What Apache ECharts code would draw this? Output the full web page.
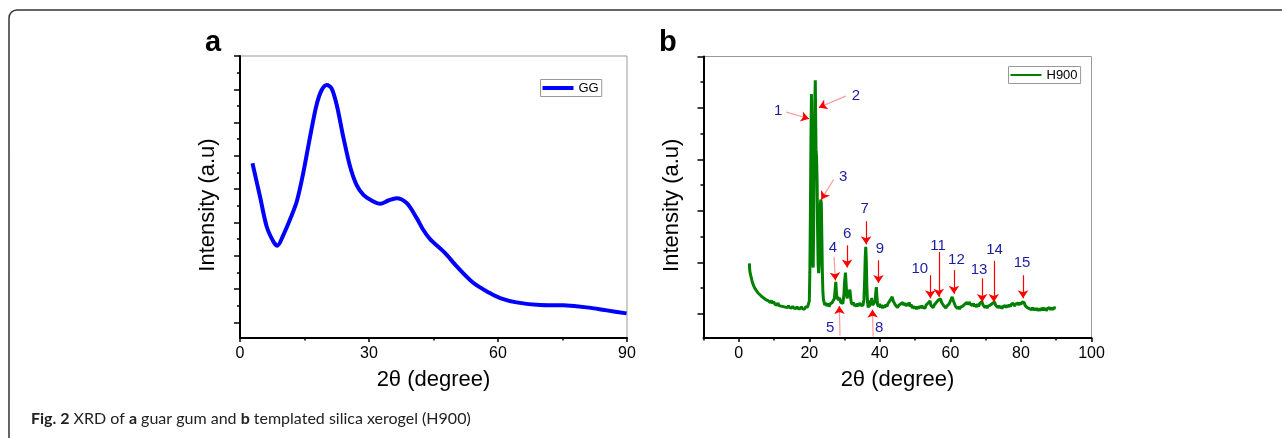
<!DOCTYPE html>
<html>
<head>
<meta charset="utf-8">
<script src="https://cdn.jsdelivr.net/npm/echarts@6/dist/echarts.min.js"></script>
<style>
  html, body { margin: 0; padding: 0; background: #fff; }
  #main { width: 1282px; height: 438px; }
</style>
</head>
<body>
<div id="main"></div>
<script>
// panel a: guar gum (GG)
const ggTheta = [2.9, 4.65, 6.2, 7.75, 8.7, 10.1, 11.6, 13.2, 14.7, 16.3, 17.8, 19.0, 20.2, 21.3, 22.5, 24.0, 25.6, 27.1, 28.7, 30.6, 32.6, 34.5, 36.4, 38.8, 41.1, 42.6, 44.2, 47.7, 50.4, 54.3, 58.1, 60.5, 64.3, 69.8, 75.2, 80.6, 85.3, 89.9]
const ggIntensity = [4.78, 3.78, 2.88, 2.43, 2.30, 2.63, 3.08, 3.63, 4.48, 5.58, 6.53, 6.98, 7.13, 7.03, 6.53, 5.58, 4.68, 4.13, 3.83, 3.66, 3.56, 3.66, 3.73, 3.58, 3.13, 2.78, 2.50, 2.08, 1.68, 1.18, 0.88, 0.73, 0.60, 0.52, 0.51, 0.45, 0.36, 0.27]

// panel b: H900 pattern, [2theta, intensity]
const h900 = [
  [3.0,0.98],[3.1,0.86],[3.2,0.80],[3.4,0.74],[3.6,0.69],[3.8,0.62],[4.0,0.60],[4.2,0.55],[4.4,0.56],[4.6,0.49],[4.8,0.50],[5.0,0.45],[5.2,0.47],[5.4,0.41],[5.7,0.43],[6.0,0.37],[6.3,0.39],[6.6,0.33],[6.9,0.35],[7.2,0.30],[7.5,0.33],[7.8,0.27],[8.1,0.30],[8.4,0.25],[8.7,0.28],[9.0,0.22],[9.3,0.26],[9.6,0.20],[9.9,0.24],[10.2,0.19],[10.5,0.22],[10.8,0.17],[11.1,0.21],[11.4,0.16],[11.7,0.19],[12.0,0.15],[12.3,0.18],[12.6,0.14],[12.9,0.17],[13.2,0.13],[13.5,0.16],[13.8,0.12],[14.1,0.16],[14.4,0.12],[14.7,0.15],[15.0,0.11],[15.3,0.15],[15.6,0.11],[15.9,0.14],[16.2,0.10],[16.5,0.14],[16.8,0.10],[17.1,0.13],[17.4,0.10],[17.7,0.14],[18.0,0.10],[18.3,0.13],[18.6,0.09],[18.9,0.13],[19.2,0.10],[19.5,0.13],[19.8,0.14],[20.0,0.25],
  [20.15,0.8],[20.3,1.9],[20.45,3.3],[20.6,4.27],[20.7,3.4],[20.8,1.9],[20.95,1.0],[21.1,0.9],[21.25,1.8],[21.4,3.2],[21.55,4.1],[21.7,4.54],[21.8,3.8],[21.9,3.2],[22.05,3.05],[22.2,2.6],[22.35,1.6],[22.5,0.95],[22.65,0.79],[22.8,0.95],[22.95,1.6],[23.1,2.1],[23.25,2.22],[23.4,2.15],[23.55,1.5],[23.7,0.8],[23.85,0.42],[24.0,0.28],[24.2,0.22],
  [24.4,0.17],[24.7,0.21],[25.0,0.15],[25.3,0.20],[25.6,0.14],[25.9,0.19],[26.2,0.16],[26.5,0.22],[26.8,0.20],[27.1,0.30],[27.3,0.45],[27.5,0.62],[27.7,0.40],[27.9,0.28],[28.1,0.33],[28.3,0.26],[28.6,0.31],[28.9,0.22],[29.2,0.25],[29.5,0.20],[29.8,0.36],[30.0,0.62],[30.25,0.80],[30.45,0.55],[30.7,0.30],[30.9,0.33],[31.1,0.28],[31.3,0.42],[31.5,0.47],[31.7,0.32],[31.9,0.22],[32.2,0.18],[32.5,0.22],[32.8,0.15],[33.1,0.19],[33.4,0.14],[33.7,0.20],[34.0,0.15],[34.3,0.21],[34.6,0.17],[34.9,0.20],[35.2,0.16],[35.5,0.28],[35.7,0.70],[35.85,1.10],[36.0,1.30],[36.15,1.05],[36.3,0.55],[36.5,0.22],[36.7,0.12],[36.9,0.18],[37.1,0.14],[37.3,0.26],[37.5,0.18],[37.7,0.31],[37.9,0.17],[38.1,0.14],[38.4,0.21],[38.7,0.26],[38.85,0.42],[39.0,0.52],[39.15,0.35],[39.35,0.18],[39.6,0.14],[39.9,0.19],
  [40.2,0.12],[40.5,0.17],[40.8,0.11],[41.1,0.16],[41.4,0.12],[41.7,0.18],[42.0,0.14],[42.3,0.20],[42.6,0.18],[42.9,0.26],[43.2,0.24],[43.5,0.33],[43.8,0.25],[44.1,0.27],[44.4,0.17],[44.7,0.19],[45.0,0.12],[45.3,0.16],[45.6,0.13],[45.9,0.19],[46.2,0.16],[46.5,0.22],[46.8,0.17],[47.1,0.21],[47.4,0.15],[47.7,0.20],[48.0,0.16],[48.3,0.22],[48.6,0.14],[48.9,0.18],[49.2,0.11],[49.5,0.15],[49.8,0.10],[50.1,0.14],[50.4,0.09],[50.7,0.14],[51.0,0.10],[51.3,0.15],[51.6,0.11],[51.9,0.16],[52.2,0.12],[52.5,0.15],[52.8,0.11],[53.1,0.17],[53.4,0.15],[53.7,0.21],[54.0,0.18],[54.2,0.25],[54.5,0.16],[54.8,0.19],[55.1,0.12],[55.4,0.17],[55.7,0.15],[56.0,0.22],[56.3,0.20],[56.6,0.27],[56.9,0.24],[57.2,0.29],[57.5,0.22],[57.8,0.24],[58.1,0.16],[58.4,0.18],[58.7,0.11],[59.0,0.15],[59.3,0.12],[59.6,0.19],[59.9,0.20],[60.2,0.28],[60.5,0.33],[60.8,0.26],[61.1,0.24],[61.4,0.15],[61.7,0.16],[62.0,0.10],[62.3,0.14],[62.6,0.09],[62.9,0.13],[63.2,0.10],[63.5,0.15],[63.8,0.13],[64.1,0.19],[64.4,0.17],[64.7,0.22],[65.0,0.18],[65.3,0.23],[65.6,0.19],[65.9,0.22],[66.2,0.16],[66.5,0.20],[66.8,0.14],[67.1,0.18],[67.4,0.13],[67.7,0.19],[68.0,0.14],[68.3,0.20],[68.6,0.17],[68.9,0.24],[69.2,0.18],[69.5,0.19],[69.8,0.12],[70.1,0.16],[70.4,0.11],[70.7,0.15],[71.0,0.12],[71.3,0.17],[71.6,0.14],[71.9,0.20],[72.2,0.17],[72.5,0.23],[72.8,0.17],[73.1,0.19],[73.4,0.12],[73.7,0.16],[74.0,0.11],[74.3,0.15],[74.6,0.10],[74.9,0.14],[75.2,0.11],[75.5,0.16],[75.8,0.12],[76.1,0.17],[76.4,0.13],[76.7,0.18],[77.0,0.14],[77.3,0.19],[77.6,0.16],[77.9,0.20],[78.2,0.15],[78.5,0.19],[78.8,0.16],[79.1,0.21],[79.4,0.17],[79.7,0.22],[80.0,0.18],[80.3,0.23],[80.6,0.20],[80.9,0.22],[81.2,0.16],[81.5,0.18],[81.8,0.12],[82.1,0.15],[82.4,0.10],[82.7,0.13],[83.0,0.08],[83.3,0.12],[83.6,0.07],[83.9,0.11],[84.2,0.07],[84.5,0.11],[84.8,0.06],[85.1,0.10],[85.4,0.06],[85.7,0.11],[86.0,0.07],[86.3,0.12],[86.6,0.07],[86.9,0.11],[87.2,0.06],[87.5,0.10],[87.8,0.07],[88.1,0.12],[88.4,0.08],[88.7,0.12],[89.0,0.08],[89.3,0.12],[89.6,0.09],[89.9,0.11]
]

// numbered peak markers: label, label position, arrow tail, arrow head
const peakNames = ['1', '2', '3', '4', '5', '6', '7', '8', '9', '10', '11', '12', '13', '14', '15']
const peakLabelAt = [[11.2,3.94],[33.2,4.23],[29.6,2.66],[26.7,1.28],[25.9,-0.28],[30.7,1.55],[35.7,2.03],[39.8,-0.27],[40.0,1.26],[51.3,0.88],[56.5,1.32],[61.7,1.04],[68.1,0.86],[72.5,1.24],[80.3,0.99]]
const arrowFrom = [[13.5,3.92],[30.3,4.23],[26.9,2.61],[27.0,1.11],[28.7,-0.42],[30.7,1.33],[36.1,1.80],[38.1,-0.44],[39.6,1.04],[54.3,0.75],[56.7,1.20],[61.0,0.85],[69.0,0.69],[72.3,1.03],[80.6,0.75]]
const arrowTo = [[19.9,3.79],[22.7,4.01],[23.4,2.22],[27.4,0.65],[28.5,0.15],[30.7,0.90],[36.1,1.35],[37.9,0.08],[39.6,0.60],[54.3,0.30],[56.7,0.33],[61.0,0.39],[69.0,0.23],[72.3,0.23],[80.6,0.30]]
const paleArrows = ['1', '2', '3', '4', '5', '8']

// tick positions (arbitrary intensity units)
const aMajorY = [0, 1, 2, 3, 4, 5, 6, 7, 8]
const aMinorY = [0.5, 1.5, 2.5, 3.5, 4.5, 5.5, 6.5, 7.5]
const bMajorY = [0, 1, 2, 3, 4, 5]
const bMinorY = [0.5, 1.5, 2.5, 3.5, 4.5]
const bMajorX = [0, 20, 40, 60, 80, 100]
const bMinorX = [-10, 10, 30, 50, 70, 90]

const FONT = 'Arial, "Liberation Sans", sans-serif'

const chart = echarts.init(document.getElementById('main'))

function mainY(grid, max, ticks) {
  return {
    type: 'value', gridIndex: grid, min: -0.47, max: max, position: 'left', offset: 0,
    axisLine: {show: true, onZero: false, lineStyle: {color: '#000', width: 2}},
    axisTick: {show: true, customValues: ticks, length: 6, lineStyle: {color: '#000', width: 1.5}},
    axisLabel: {show: false},
    splitLine: {show: false},
    name: 'Intensity (a.u)', nameLocation: 'middle', nameGap: 21,
    nameTextStyle: {fontFamily: FONT, fontSize: 22, color: '#000', padding: [0, 16, 0, 0]}
  }
}

function minorY(grid, max, ticks) {
  return {
    type: 'value', gridIndex: grid, min: -0.47, max: max, position: 'left', offset: 0,
    axisLine: {show: false, onZero: false},
    axisTick: {show: true, customValues: ticks, length: 3, lineStyle: {color: '#000', width: 1.5}},
    axisLabel: {show: false},
    splitLine: {show: false}
  }
}

const xName = {
  name: '2θ (degree)', nameLocation: 'middle', nameGap: 31,
  nameTextStyle: {fontFamily: FONT, fontSize: 22, color: '#000'}
}

// pale arrows: pale shaft, then a short red piece at the tip carrying the head
const arrowLines = []
peakNames.forEach((n, i) => {
  const a = arrowFrom[i], b = arrowTo[i]
  if (paleArrows.includes(n)) {
    const k = 0.22
    const mid = [b[0] - (b[0] - a[0]) * k, b[1] - (b[1] - a[1]) * k]
    arrowLines.push([
      {coord: a, symbol: 'none', lineStyle: {color: '#f59a9a', width: 1.2, type: 'solid'}},
      {coord: mid, symbol: 'none'}
    ])
    arrowLines.push([
      {coord: mid, symbol: 'none', lineStyle: {color: '#ff0000', width: 1.2, type: 'solid'}},
      {coord: b, symbol: 'arrow'}
    ])
  } else {
    arrowLines.push([
      {coord: a, symbol: 'none', lineStyle: {color: '#ff0000', width: 1.2, type: 'solid'}},
      {coord: b, symbol: 'arrow'}
    ])
  }
})

chart.setOption({
  animation: false,
  grid: [
    {left: 240, top: 56, width: 387, height: 282, show: true, borderColor: '#999', borderWidth: 1},
    {left: 703.5, top: 56.5, width: 388, height: 281.5, show: true, borderColor: '#999', borderWidth: 1}
  ],
  xAxis: [
    Object.assign({
      type: 'value', gridIndex: 0, min: 0, max: 90, interval: 30,
      axisLine: {onZero: false, lineStyle: {color: '#000', width: 2}},
      axisTick: {length: 4, lineStyle: {color: '#000', width: 1.5}},
      minorTick: {show: true, splitNumber: 2, length: 2.5, lineStyle: {color: '#000', width: 1.5}},
      axisLabel: {fontFamily: FONT, fontSize: 16, color: '#000', margin: 8},
      splitLine: {show: false}
    }, xName),
    Object.assign({
      type: 'value', gridIndex: 1, min: -10, max: 100,
      axisLine: {onZero: false, lineStyle: {color: '#000', width: 2}},
      axisTick: {customValues: bMajorX, length: 4, lineStyle: {color: '#000', width: 1.5}},
      axisLabel: {customValues: bMajorX, fontFamily: FONT, fontSize: 16, color: '#000', margin: 8},
      splitLine: {show: false}
    }, xName),
    {
      type: 'value', gridIndex: 1, min: -10, max: 100, position: 'bottom', offset: 0,
      axisLine: {show: false, onZero: false},
      axisTick: {customValues: bMinorX, length: 2.5, lineStyle: {color: '#000', width: 1.5}},
      axisLabel: {show: false},
      splitLine: {show: false}
    }
  ],
  yAxis: [
    mainY(0, 8, aMajorY),
    minorY(0, 8, aMinorY),
    mainY(1, 5, bMajorY),
    minorY(1, 5, bMinorY)
  ],
  legend: [
    {
      data: ['GG'], left: 540.5, top: 79.5, orient: 'vertical',
      icon: 'rect', itemWidth: 31, itemHeight: 4, itemGap: 0,
      padding: [2, 3, 2, 2], borderColor: '#999', borderWidth: 1,
      textStyle: {fontFamily: FONT, fontSize: 13, color: '#000', lineHeight: 12}
    },
    {
      data: ['H900'], left: 1008.5, top: 66.5, orient: 'vertical',
      icon: 'rect', itemWidth: 31, itemHeight: 2, itemGap: 0,
      padding: [2, 3, 2, 2], borderColor: '#999', borderWidth: 1,
      textStyle: {fontFamily: FONT, fontSize: 13, color: '#000', lineHeight: 12}
    }
  ],
  graphic: [
    {
      type: 'rect', silent: true,
      shape: {x: 9, y: 10, width: 1320, height: 460, r: 8},
      style: {fill: 'none', stroke: '#333', lineWidth: 1.5}
    },
    {
      type: 'text', left: 205, top: 28, silent: true,
      style: {text: 'a', font: 'bold 29px ' + FONT, fill: '#000'}
    },
    {
      type: 'text', left: 659, top: 28, silent: true,
      style: {text: 'b', font: 'bold 29px ' + FONT, fill: '#000'}
    },
    {
      type: 'text', left: 31, top: 411, silent: true,
      style: {
        text: '{b|Fig. 2} XRD of {b|a} guar gum and {b|b} templated silica xerogel (H900)',
        font: '16px Lato, sans-serif', fill: '#222',
        rich: {b: {font: 'bold 16px Lato, sans-serif', fill: '#222'}}
      }
    }
  ],
  series: [
    {
      name: 'GG', type: 'line', xAxisIndex: 0, yAxisIndex: 0,
      data: ggTheta.map((t, i) => [t, ggIntensity[i]]),
      smooth: 0.3, showSymbol: false, silent: true,
      lineStyle: {color: '#0000ff', width: 4},
      itemStyle: {color: '#0000ff'}
    },
    {
      name: 'H900', type: 'line', xAxisIndex: 1, yAxisIndex: 2,
      data: h900, showSymbol: false, silent: true,
      lineStyle: {color: '#008000', width: 3},
      itemStyle: {color: '#008000'},
      markLine: {
        silent: true, symbol: ['none', 'arrow'], symbolSize: 8, animation: false,
        label: {show: false},
        data: arrowLines
      }
    },
    {
      name: 'peaks', type: 'scatter', xAxisIndex: 1, yAxisIndex: 2,
      data: peakNames.map((n, i) => [peakLabelAt[i][0], peakLabelAt[i][1], n]),
      symbolSize: 1, silent: true,
      itemStyle: {opacity: 1, color: 'rgba(0,0,0,0)'},
      label: {
        show: true, position: 'inside', formatter: p => p.value[2], opacity: 1,
        fontFamily: FONT, fontSize: 15, color: '#1c1ca0',
        textBorderWidth: 0, textBorderColor: 'transparent'
      }
    }
  ]
})
</script>
</body>
</html>
